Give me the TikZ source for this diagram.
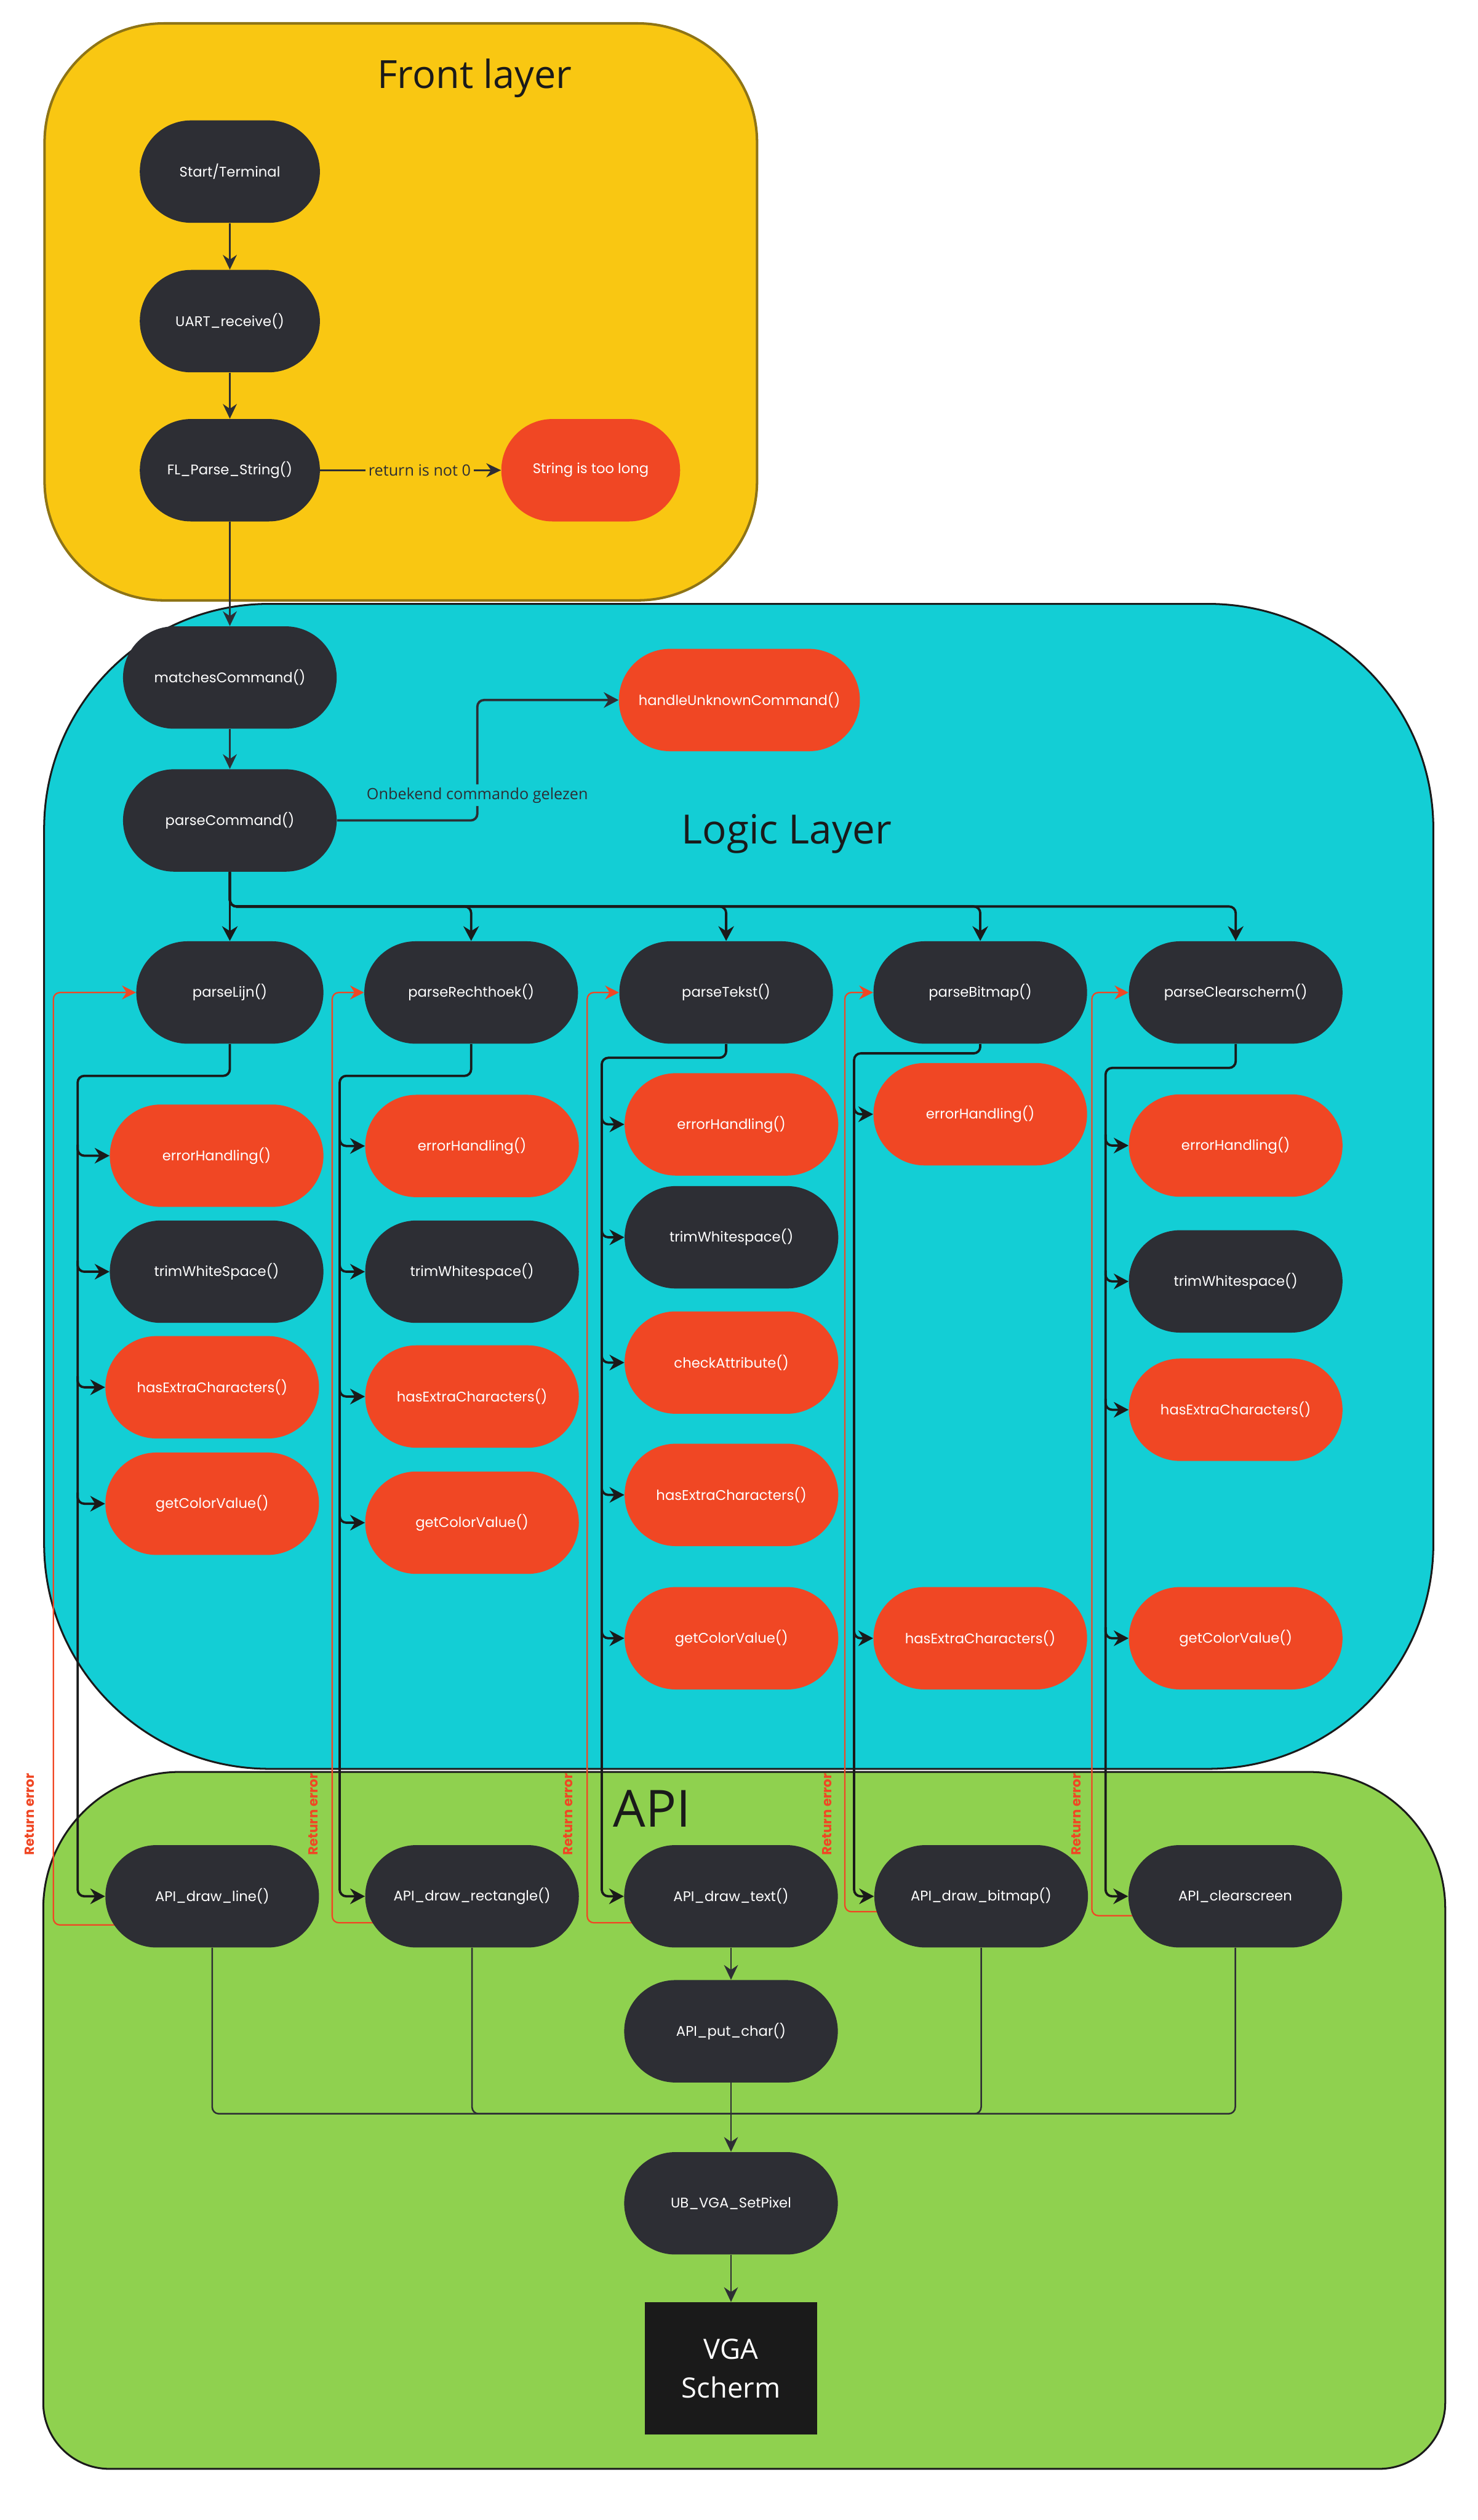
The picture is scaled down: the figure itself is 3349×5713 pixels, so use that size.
\documentclass[tikz,border=0pt]{standalone}
\usepackage{fontspec}
\setmainfont{Open Sans}
\newfontfamily\popfont{Poppins}
\usetikzlibrary{arrows.meta,calc}
\pgfdeclarelayer{bg}
\pgfdeclarelayer{lines}
\pgfsetlayers{bg,lines,main}
\definecolor{geel}{HTML}{F9C712}
\definecolor{geelrand}{HTML}{8E7416}
\definecolor{cyaan}{HTML}{13CED5}
\definecolor{groen}{HTML}{8FD14F}
\definecolor{donker}{HTML}{2D2E34}
\definecolor{rood}{HTML}{F04724}
\definecolor{zwart}{HTML}{1A1A1A}
\begin{document}
\begin{tikzpicture}[x=0.01cm,y=-0.01cm]
\tikzstyle{f}=[rectangle,rounded corners=1.16cm,minimum width=4.84cm,minimum height=2.32cm,inner sep=0pt,text=white,font=\popfont\fontsize{9}{11}\selectfont]
\tikzstyle{fd}=[f,fill=donker]
\tikzstyle{fr}=[f,fill=rood]
\tikzstyle{pijl}=[draw=zwart,line width=1.5pt,-{Stealth[length=9.5pt,width=10pt]},rounded corners=0.15cm]
\tikzstyle{dun}=[draw=donker,line width=1pt,-{Stealth[length=9.5pt,width=9pt]}]
\tikzstyle{terug}=[draw=rood,line width=0.9pt,-{Stealth[length=9pt,width=9pt]},rounded corners=0.15cm]
\tikzstyle{lbl}=[font=\fontsize{10}{12}\selectfont,text=donker,inner sep=2pt]
\tikzstyle{ret}=[rotate=90,text=rood,font=\popfont\bfseries\fontsize{8.5}{10}\selectfont]
\tikzstyle{titel}=[text=zwart,inner sep=0pt]
\useasboundingbox (0,0) rectangle (3349,5713);
% front layer
\node[fd,minimum width=4.08cm] (st) at (521,389) {Start/Terminal};
\node[fd,minimum width=4.08cm] (uart) at (521,728) {UART\_receive()};
\node[fd,minimum width=4.08cm] (fl) at (521,1066) {FL\_Parse\_String()};
\node[fr,minimum width=4.05cm] (tl) at (1339,1066) {String is too long};
% logic layer
\node[fd] (mc) at (521,1536) {matchesCommand()};
\node[fd] (pc) at (521,1860) {parseCommand()};
\node[fr,minimum width=5.46cm] (hu) at (1676,1587) {handleUnknownCommand()};
\node[fd,minimum width=4.24cm] (pl) at (521,2250) {parseLijn()};
\node[fd] (pr) at (1068,2250) {parseRechthoek()};
\node[fd] (pt) at (1646,2250) {parseTekst()};
\node[fd] (pb) at (2222,2250) {parseBitmap()};
\node[fd] (pcs) at (2801,2250) {parseClearscherm()};
\node[fr] (e1) at (491,2620) {errorHandling()};
\node[fd] (t1) at (491,2883) {trimWhiteSpace()};
\node[fr] (h1) at (481,3145) {hasExtraCharacters()};
\node[fr] (g1) at (481,3409) {getColorValue()};
\node[fr] (e2) at (1070,2598) {errorHandling()};
\node[fd] (t2) at (1070,2883) {trimWhitespace()};
\node[fr] (h2) at (1070,3166) {hasExtraCharacters()};
\node[fr] (g2) at (1070,3452) {getColorValue()};
\node[fr] (e3) at (1658,2549) {errorHandling()};
\node[fd] (t3) at (1658,2805) {trimWhitespace()};
\node[fr] (c3) at (1658,3089) {checkAttribute()};
\node[fr] (h3) at (1658,3389) {hasExtraCharacters()};
\node[fr] (g3) at (1658,3714) {getColorValue()};
\node[fr] (e4) at (2222,2526) {errorHandling()};
\node[fr] (h4) at (2222,3714) {hasExtraCharacters()};
\node[fr] (e5) at (2801,2597) {errorHandling()};
\node[fd] (t5) at (2801,2905) {trimWhitespace()};
\node[fr] (h5) at (2801,3196) {hasExtraCharacters()};
\node[fr] (g5) at (2801,3714) {getColorValue()};
% api
\node[fd] (al) at (481,4299) {API\_draw\_line()};
\node[fd] (ar) at (1070,4299) {API\_draw\_rectangle()};
\node[fd] (at) at (1657,4299) {API\_draw\_text()};
\node[fd] (ab) at (2224,4299) {API\_draw\_bitmap()};
\node[fd] (acs) at (2800,4299) {API\_clearscreen};
\node[fd] (apc) at (1657,4605) {API\_put\_char()};
\node[fd] (px) at (1657,4995) {UB\_VGA\_SetPixel};
\node[fill=zwart,minimum width=3.89cm,minimum height=2.99cm,text=white,align=center,font=\fontsize{18}{25}\selectfont] (vga) at (1657,5369) {VGA\\Scherm};
\begin{pgfonlayer}{bg}
\path[fill=white] (0,0) rectangle (3349,5713);
\draw[fill=cyaan,draw=zwart,line width=1.2pt,rounded corners=5.1cm] (100,1369) rectangle (3249,4010);
\draw[fill=groen,draw=zwart,line width=1.2pt] (98,4900) [rounded corners=3.1cm] -- (98,4017) -- (3276,4017) -- (3276,4900) [rounded corners=1.5cm] -- (3276,5597) -- (98,5597) -- cycle;
\draw[fill=geel,draw=geelrand,line width=1.6pt,rounded corners=2.7cm] (101,53) rectangle (1716,1361);
\node[titel,font=\fontsize{25}{30}\selectfont] (tfront) at (1076,177) {Front layer};
\node[titel,font=\fontsize{26}{30}\selectfont] (tlogic) at (1783,1890) {Logic Layer};
\node[titel,font=\fontsize{33}{38}\selectfont] (tapi) at (1478,4100) {API};
\end{pgfonlayer}
\begin{pgfonlayer}{lines}
\draw[dun] (st) -- (uart);
\draw[dun] (uart) -- (fl);
\draw[dun] (fl) -- (mc);
\draw[dun] (fl) -- node[lbl,fill=geel,pos=0.55] {return is not 0} (tl);
\draw[dun] (mc) -- (pc);
\coordinate (knik) at (1082,1587);
\coordinate (splits) at (521,2055);
\draw[pijl,draw=donker] (pc.east) -- (pc.east -| knik) -- node[lbl,fill=cyaan,pos=0.21] {Onbekend commando gelezen} (knik) -- (hu.west);
\draw[pijl] (pc.south) -- (pl.north);
\foreach \p in {pr,pt,pb,pcs} \draw[pijl] (pc.south) -- (splits) -| (\p.north);
% kolommen
\coordinate (s1) at (176,2439);
\coordinate (s2) at (770,2439);
\coordinate (s3) at (1364,2398);
\coordinate (s4) at (1936,2388);
\coordinate (s5) at (2506,2421);
\draw[pijl] (pl.south) |- (s1) |- (al.west);
\draw[pijl] (pr.south) |- (s2) |- (ar.west);
\draw[pijl] (pt.south) |- (s3) |- (at.west);
\draw[pijl] (pb.south) |- (s4) |- (ab.west);
\draw[pijl] (pcs.south) |- (s5) |- (acs.west);
\foreach \k in {e1,t1,h1,g1} \draw[pijl] ($(s1 |- \k.west)+(0,-25)$) |- (\k.west);
\foreach \k in {e2,t2,h2,g2} \draw[pijl] ($(s2 |- \k.west)+(0,-25)$) |- (\k.west);
\foreach \k in {e3,t3,c3,h3,g3} \draw[pijl] ($(s3 |- \k.west)+(0,-25)$) |- (\k.west);
\foreach \k in {e4,h4} \draw[pijl] ($(s4 |- \k.west)+(0,-25)$) |- (\k.west);
\foreach \k in {e5,t5,h5,g5} \draw[pijl] ($(s5 |- \k.west)+(0,-25)$) |- (\k.west);
% return error
\coordinate (r1) at (121,2250);
\coordinate (r2) at (753,2250);
\coordinate (r3) at (1331,2250);
\coordinate (r4) at (1915,2250);
\coordinate (r5) at (2475,2250);
\draw[terug] ([shift={(35,65)}]al.west) -| (r1) -- (pl.west);
\draw[terug] ([shift={(35,60)}]ar.west) -| (r2) -- (pr.west);
\draw[terug] ([shift={(35,60)}]at.west) -| (r3) -- (pt.west);
\draw[terug] ([shift={(35,35)}]ab.west) -| (r4) -- (pb.west);
\draw[terug] ([shift={(35,44)}]acs.west) -| (r5) -- (pcs.west);
\node[ret] (re1) at (67,4113) {Return error};
\node[ret] (re2) at (710,4113) {Return error};
\node[ret] (re3) at (1287,4113) {Return error};
\node[ret] (re4) at (1874,4113) {Return error};
\node[ret] (re5) at (2440,4113) {Return error};
% api
\draw[dun] (at) -- (apc);
\coordinate (samen) at (1657,4792);
\foreach \a in {al,ar,ab,acs} \draw[draw=donker,line width=1pt,rounded corners=0.15cm] (\a.south) |- (samen);
\draw[dun] (apc) -- (px);
\draw[dun] (px) -- (vga);
\end{pgfonlayer}
\end{tikzpicture}
\end{document}
